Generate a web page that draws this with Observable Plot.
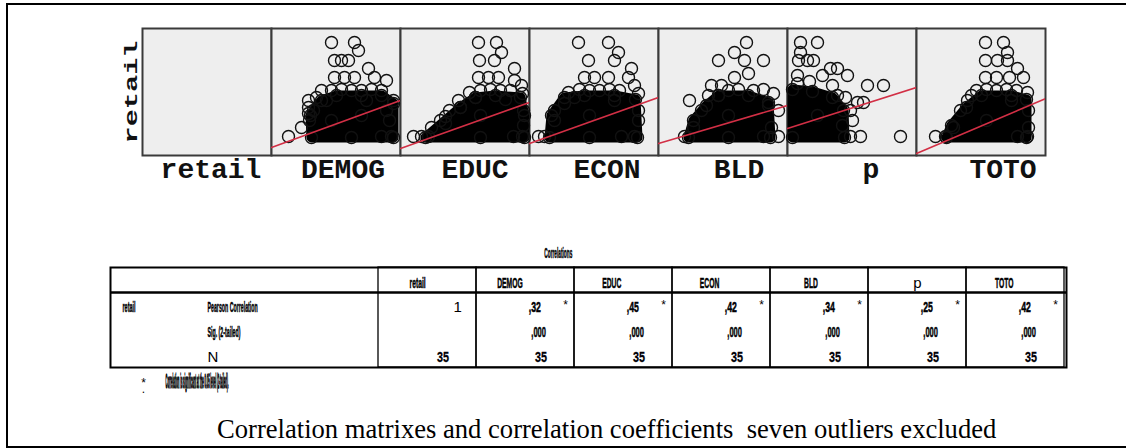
<!DOCTYPE html>
<html><head><meta charset="utf-8">
<script src="https://cdn.jsdelivr.net/npm/d3@7"></script>
<script src="https://cdn.jsdelivr.net/npm/@observablehq/plot@0.6"></script>
<style>
html,body{margin:0;padding:0;background:#fff;}
body{position:relative;width:1126px;height:448px;overflow:hidden;}
#scatter{position:absolute;left:0;top:0;}
#table{position:absolute;left:0;top:230px;}
#caption{position:absolute;left:217px;top:416px;font-family:"Liberation Serif","Times New Roman",serif;font-size:26.6px;line-height:26px;white-space:pre;color:#000;}
#border{position:absolute;left:6px;top:3px;width:1200px;height:441px;border:2px solid #000;pointer-events:none;}
</style></head><body>
<div id="scatter"></div><div id="table"></div><div id="caption"></div><div id="border"></div>
<script>
// ---------- scatter-matrix row data ----------
const variables = ["retail","DEMOG","EDUC","ECON","BLD","p","TOTO"];
const predictors = ["DEMOG","EDUC","ECON","BLD","p","TOTO"];
const xDomain = [0, 12.9];
const yDomain = [0, 12.7];

const demogPoints = [[1.7,1.9],[3.0,2.8],[3.7,5.5],[3.7,4.8],[3.7,4.2],[3.8,3.5],[4.2,4.5],[4.5,5.8],
  [6.0,11.3],[8.3,11.3],[8.7,10.5],[6.3,9.5],[7.0,9.5],[7.7,9.5],
  [6.3,7.8],[7.3,7.8],[8.3,7.8],[9.7,8.7],[10.3,7.8],[11.5,7.5],
  [5.0,6.5],[6.0,6.5],[7.0,6.6],[8.0,6.5],[9.0,6.5],[10.0,6.6],[11.0,6.5],
  [12.2,5.5],[11.8,3.5],[12.0,1.9],[11.0,1.9],[5.5,5.5],[9.5,5.5],[11.5,4.5]];
const demogDense = [[4.0,1.8],[3.9,4.0],[5.0,5.5],[6.5,6.0],[9.0,6.0],[11.0,6.0],[12.2,5.2],[12.2,1.8],[8.0,1.8],[6.0,3.5],[9.0,4.0]];

const educPoints = [[1.3,1.9],[2.1,1.9],[2.8,1.9],[3.1,2.8],[4.0,3.5],[4.5,3.9],[4.9,4.5],[5.8,5.5],[6.0,4.8],[6.9,6.3],
  [7.8,11.3],[9.6,11.3],[10.1,10.3],[7.9,9.5],[9.4,9.5],
  [11.4,8.7],[7.8,7.8],[8.8,7.8],[9.8,7.8],[11.4,7.5],[12.1,7.0],
  [8.0,6.5],[9.0,6.6],[10.0,6.5],[11.0,6.5],[12.2,6.2],
  [12.3,4.5],[12.3,3.0],[12.2,1.9],[11.3,1.9],[7.5,5.8],[10.5,5.6]];
const educDense = [[2.5,1.8],[4.5,3.2],[6.0,4.8],[7.5,5.8],[9.5,6.0],[12.0,5.8],[12.4,4.0],[12.4,1.8],[8.0,1.8],[8.0,4.0]];

const econPoints = [[0.9,1.9],[1.5,1.9],[2.5,3.5],[2.5,4.5],[3.5,5.2],[3.9,6.3],
  [4.9,11.3],[7.9,11.3],[8.9,10.3],[5.9,9.5],[8.5,9.5],[10.2,8.7],
  [5.5,7.8],[6.5,7.8],[7.9,7.8],[9.9,7.8],[10.5,7.0],
  [5.0,6.6],[6.0,6.5],[7.0,6.5],[8.0,6.6],[9.0,6.5],
  [10.9,6.2],[10.9,4.5],[10.9,3.5],[10.5,1.9],[9.2,1.9],[4.5,5.8],[8.5,5.5]];
const econDense = [[2.0,1.8],[2.2,4.0],[3.5,5.8],[5.5,6.0],[8.5,6.0],[10.6,5.6],[10.8,1.8],[6.0,1.8],[6.0,4.0]];

const bldPoints = [[2.6,1.9],[3.5,2.8],[3.1,5.5],[4.3,4.5],[5.0,6.0],
  [8.8,11.3],[7.6,10.3],[6.0,9.5],[8.6,9.5],[10.5,9.5],
  [5.3,7.0],[6.3,7.0],[7.6,7.8],[9.0,8.2],[11.5,6.2],
  [7.0,6.5],[8.0,6.6],[9.5,6.5],[10.5,6.6],
  [12.0,4.5],[12.0,1.9],[11.3,2.8],[10.5,1.9],[6.0,6.0],[11.0,5.0]];
const bldDense = [[3.0,1.8],[3.5,3.5],[4.8,5.0],[6.0,6.0],[9.0,6.0],[11.0,5.3],[11.2,1.8],[7.0,1.8],[7.0,4.0]];

const pPoints = [[1.3,11.3],[3.0,11.3],[1.3,10.3],[1.1,9.5],[2.0,9.5],[2.6,9.5],[4.3,8.7],[5.0,8.7],[6.0,8.0],[1.0,8.0],[3.5,8.0],
  [8.0,7.0],[9.6,7.0],[7.0,5.3],[7.6,5.3],[6.3,4.5],
  [7.3,1.9],[6.3,1.9],[11.3,1.9],
  [5.5,3.0],[6.5,3.5],[5.0,6.0],[5.8,5.8],[4.5,7.0],[1.0,7.2],[2.2,7.4]];
const pDense = [[0.5,1.8],[0.5,6.6],[2.5,6.4],[4.5,5.8],[5.6,4.5],[5.7,1.8],[3.0,4.0]];

const totoPoints = [[1.9,1.9],[2.9,1.9],[3.7,2.8],[4.4,4.5],[5.1,5.5],
  [6.9,11.3],[8.7,11.3],[9.1,10.3],[6.9,9.5],[8.1,9.5],[9.1,9.5],[10.1,8.7],
  [6.9,7.8],[8.0,7.8],[9.3,7.8],[10.7,7.8],
  [6.0,6.5],[7.0,6.6],[8.0,6.5],[9.0,6.6],[10.0,6.5],
  [11.1,6.3],[11.2,4.5],[11.2,2.8],[11.1,1.9],[10.1,1.9],[5.5,6.0],[9.5,5.5]];
const totoDense = [[3.0,1.8],[3.5,3.0],[5.0,4.8],[6.5,6.0],[9.5,6.0],[11.0,5.6],[11.0,1.8],[7.0,3.5]];

const fitIntercepts = [0.8, 0.7, 1.2, 1.2, 2.7, 0.2];
const fitSlopes = [0.364, 0.357, 0.357, 0.295, 0.318, 0.426];

// ---------- correlation table data ----------
const tableTitle = "Correlations";
const tableColumns = ["retail","DEMOG","EDUC","ECON","BLD","p","TOTO"];
const statLabels = ["Pearson Correlation","Sig. (2-tailed)","N"];
const pearsonValues = ["1",",32",",45",",42",",34",",25",",42"];
const pearsonFlags = ["","*","*","*","*","*","*"];
const sigValues = ["",",000",",000",",000",",000",",000",",000"];
const nValues = ["35","35","35","35","35","35","35"];
const footnoteMark = "*.";
const footnoteText = "Correlation is significant at the 0.05 level (2-tailed).";
const captionText = "Correlation matrixes and correlation coefficients  seven outliers excluded";

// ---------- build tables ----------
const pointSets = [demogPoints, educPoints, econPoints, bldPoints, pPoints, totoPoints];
const denseSets = [demogDense, educDense, econDense, bldDense, pDense, totoDense];
const toRows = sets => predictors.flatMap((v, i) => sets[i].map(([x, y]) => ({v, x, y})));
const points = toRows(pointSets);
const dense = toRows(denseSets);
const fits = predictors.flatMap((v, i) => xDomain.map(x => ({v, x, y: fitIntercepts[i] + fitSlopes[i] * x})));

const dotStyle = {x: "x", y: "y", fx: "v", r: 6, stroke: "#111", strokeWidth: 1.4, fill: "none"};

// near-black fill codes used to find groups of texts after rendering
const INK = {xlab: "#111111", ylab: "#111112", title: "#000001", header: "#000002", rowvar: "#000003",
  stat: "#000004", pearson: "#000005", sig: "#000006", n: "#000007", foot: "#000008"};

const scatter = Plot.plot({
  width: 1126, height: 200,
  marginTop: 28, marginBottom: 45, marginLeft: 141, marginRight: 80,
  style: {background: "none", overflow: "visible"},
  fx: {domain: variables, padding: 0, axis: null, label: null},
  x: {domain: xDomain, axis: null},
  y: {domain: yDomain, axis: null},
  marks: [
    Plot.frame({fill: "#eeeeee", stroke: "#3a3a3a", strokeWidth: 2}),
    Plot.hull(dense, {x: "x", y: "y", fx: "v", fill: "#000", stroke: "#000", strokeWidth: 10, strokeLinejoin: "round"}),
    Plot.dot(points, dotStyle),
    Plot.dot(dense, dotStyle),
    Plot.line(fits, {x: "x", y: "y", fx: "v", z: "v", stroke: "#d22f45", strokeWidth: 1.6, clip: true}),
    Plot.text(variables, {fx: d => d, text: d => d, frameAnchor: "bottom", dy: 22, dx: 13,
      fontFamily: "Liberation Mono", fontSize: 28, fontWeight: "bold", fill: INK.xlab}),
    Plot.text([variables[0]], {fx: d => d, text: d => d, frameAnchor: "left", textAnchor: "middle", rotate: -90, dx: -6, lineAnchor: "bottom",
      fontFamily: "Liberation Mono", fontSize: 18, fontWeight: "bold", fill: INK.ylab})
  ]
});
document.getElementById("scatter").appendChild(scatter);

const rowCount = statLabels.length + 1;
const headerRowCount = 1;
const header = tableColumns.map(c => ({c, row: 0.5, t: c}));
const cellRow = (vals, r) => tableColumns.map((c, i) => ({c, row: r + 0.5, t: vals[i]})).filter(d => d.t !== "");
const pearsonCells = cellRow(pearsonValues, 1);
const starCells = cellRow(pearsonFlags, 1);
const sigCells = cellRow(sigValues, 2);
const nCells = cellRow(nValues, 3);
const labelCells = statLabels.map((t, i) => ({t, row: i + 1.5}));
const rowVarCells = [{t: variables[0], row: 1.5}];

const table = Plot.plot({
  width: 1126, height: 160,
  marginTop: 37, marginBottom: 23, marginLeft: 110, marginRight: 60,
  style: {background: "none", overflow: "visible", fontFamily: "Liberation Sans, Arial, sans-serif"},
  x: {type: "band", domain: tableColumns, range: [375, 1066], padding: 0, axis: null},
  y: {domain: [0, rowCount], reverse: true, axis: null},
  marks: [
    Plot.barY(tableColumns, {x: d => d, y1: 0, y2: rowCount, fill: "none", stroke: "#000", strokeWidth: 1.3}),
    Plot.frame({stroke: "#000", strokeWidth: 2}),
    Plot.ruleY([headerRowCount], {stroke: "#000", strokeWidth: 2.5}),
    Plot.text([tableTitle], {frameAnchor: "top", dy: -20, fontSize: 15, fontWeight: "bold", fill: INK.title}),
    Plot.text(header, {x: "c", y: "row", text: "t", dy: 3, fontSize: 15, fill: INK.header}),
    Plot.text(rowVarCells, {y: "row", text: "t", frameAnchor: "left", dx: 12, textAnchor: "start", dy: 2, fontSize: 15, fill: INK.rowvar}),
    Plot.text(labelCells, {y: "row", text: "t", frameAnchor: "left", dx: 97, textAnchor: "start", dy: 2, fontSize: 15, fill: INK.stat}),
    Plot.text(pearsonCells.filter(d => d.t.length > 1), {x: "c", y: "row", text: "t", textAnchor: "end", dx: 15.4, dy: 2, fontSize: 15, fill: INK.pearson}),
    Plot.text(pearsonCells.filter(d => d.t.length === 1), {x: "c", y: "row", text: "t", textAnchor: "end", dx: 34.4, dy: 2, fontSize: 15}),
    Plot.text(starCells, {x: "c", y: "row", text: "t", dx: 40, dy: 0, fontSize: 12}),
    Plot.text(sigCells, {x: "c", y: "row", text: "t", textAnchor: "end", dx: 20.4, dy: 2, fontSize: 15, fill: INK.sig}),
    Plot.text(nCells, {x: "c", y: "row", text: "t", textAnchor: "end", dx: 21.4, dy: 2, fontSize: 15, fill: INK.n}),
    Plot.text([footnoteMark], {text: d => d.split("").join("\n"), frameAnchor: "bottom-left", dx: 33, dy: 25.6,
      lineHeight: 0.5, textAnchor: "middle", fontSize: 12}),
    Plot.text([footnoteText], {frameAnchor: "bottom-left", dx: 55, dy: 20, textAnchor: "start", fontSize: 20, fill: INK.foot})
  ]
});
document.getElementById("table").appendChild(table);

// squeeze text glyphs to reproduce the compressed labels of the original output
// keep: which point of the text stays fixed ("start", "middle" or "end"); default = its own anchor
function squeeze(svg, ink, opts) {
  svg.querySelectorAll(`g[fill="${ink}"] text`).forEach(t => {
    if (t.textContent.length <= 1) return;
    if (opts.bold) {
      t.setAttribute("font-weight", "bold");
      t.setAttribute("stroke", "#000");
      t.setAttribute("stroke-width", opts.heavy || 0.5);
    }
    const w = t.getComputedTextLength();
    const b = t.getBBox();
    const anchor = getComputedStyle(t).textAnchor;
    const keep = opts.keep || (anchor === "end" ? "end" : anchor === "middle" ? "middle" : "start");
    const len = opts.length != null ? opts.length : w * opts.factor;
    const x0 = keep === "end" ? b.x + w - len : keep === "middle" ? b.x + w / 2 - len / 2 : b.x;
    t.setAttribute("x", x0);
    t.setAttribute("text-anchor", "start");
    t.setAttribute("textLength", len);
    t.setAttribute("lengthAdjust", "spacingAndGlyphs");
  });
}
squeeze(scatter, INK.ylab, {length: 103, keep: "middle"});
squeeze(table, INK.title, {length: 28, keep: "start", bold: true});
squeeze(table, INK.header, {factor: 0.45, keep: "start", bold: true});
squeeze(table, INK.rowvar, {length: 13, bold: true});
squeeze(table, INK.stat, {factor: 0.35, bold: true});
squeeze(table, INK.pearson, {factor: 0.58, keep: "end", bold: true});
squeeze(table, INK.sig, {factor: 0.5, keep: "end", bold: true});
squeeze(table, INK.n, {factor: 0.72, keep: "end", bold: true, heavy: 0.3});
squeeze(table, INK.foot, {length: 63, bold: true, heavy: 1.4});

// the original axis titles are spaced slightly wider than the panels
scatter.querySelectorAll(`g[fill="${INK.xlab}"] text`).forEach((t, i) => t.setAttribute("dx", (i - 3) * 3));

document.getElementById("caption").textContent = captionText;
</script></body></html>
